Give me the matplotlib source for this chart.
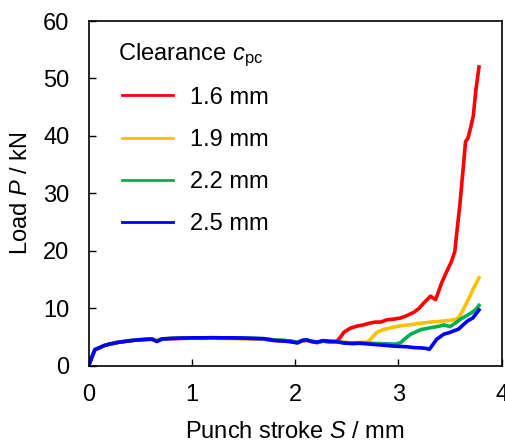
import matplotlib
matplotlib.use("Agg")
import matplotlib.pyplot as plt

plt.rcParams['font.family'] = ['Liberation Sans', 'DejaVu Sans']
plt.rcParams['mathtext.fontset'] = 'custom'
plt.rcParams['mathtext.rm'] = 'Liberation Sans'
plt.rcParams['mathtext.it'] = 'Liberation Sans:italic'
plt.rcParams['mathtext.bf'] = 'Liberation Sans:bold'

labels = ["1.6 mm", "1.9 mm", "2.2 mm", "2.5 mm"]
colors = ["#FF0000", "#FFC000", "#00B050", "#0000FF"]

s_16 = [0, 0.03, 0.06, 0.1, 0.15, 0.2, 0.28, 0.36, 0.45, 0.53, 0.61, 0.66, 0.71, 0.8, 0.9, 1.0,
        1.1, 1.2, 1.3, 1.4, 1.5, 1.6, 1.7, 1.79, 1.87, 1.95, 2.02, 2.07, 2.11, 2.16, 2.21, 2.27,
        2.33, 2.4, 2.44, 2.47, 2.53, 2.6, 2.66, 2.72, 2.78, 2.83, 2.89, 2.95, 3.02, 3.08, 3.15,
        3.2, 3.25, 3.31, 3.36, 3.42, 3.47, 3.51, 3.545, 3.57, 3.595, 3.63, 3.65, 3.673, 3.70,
        3.725, 3.75, 3.78]
p_16 = [0, 1.5, 2.8, 3.1, 3.5, 3.75, 4.05, 4.25, 4.45, 4.55, 4.6, 4.4, 4.6, 4.7, 4.75, 4.8,
        4.8, 4.85, 4.8, 4.8, 4.75, 4.7, 4.6, 4.4, 4.35, 4.2, 4.0, 4.3, 4.4, 4.2, 4.0, 4.3,
        4.1, 4.2, 5.0, 5.8, 6.5, 6.9, 7.1, 7.4, 7.6, 7.6, 8.0, 8.1, 8.3, 8.7, 9.3,
        10.0, 11.0, 12.1, 11.5, 14.5, 16.5, 18.0, 19.8, 24.0, 28.0, 35.0, 39.0, 39.6, 41.5,
        43.5, 48.0, 52.0]

s_19 = [0, 0.03, 0.06, 0.1, 0.15, 0.2, 0.28, 0.36, 0.45, 0.53, 0.61, 0.66, 0.71, 0.8, 0.9, 1.0,
        1.1, 1.2, 1.3, 1.4, 1.5, 1.6, 1.7, 1.79, 1.87, 1.95, 2.02, 2.07, 2.11, 2.16, 2.21, 2.27,
        2.33, 2.4, 2.47, 2.55, 2.62, 2.70, 2.75, 2.79, 2.84, 2.89, 2.95, 3.02, 3.1, 3.2, 3.31,
        3.4, 3.47, 3.54, 3.58, 3.62, 3.67, 3.72, 3.78]
p_19 = [0, 1.5, 2.8, 3.1, 3.5, 3.8, 4.1, 4.3, 4.5, 4.6, 4.7, 4.5, 4.7, 4.75, 4.8, 4.8,
        4.75, 4.8, 4.75, 4.7, 4.7, 4.7, 4.65, 4.5, 4.4, 4.3, 4.1, 4.35, 4.45, 4.25, 4.1, 4.3,
        4.2, 4.2, 4.1, 4.0, 4.05, 4.1, 5.0, 5.8, 6.2, 6.45, 6.7, 6.95, 7.1, 7.35, 7.6,
        7.7, 7.85, 8.0, 8.3, 9.5, 11.3, 13.2, 15.3]

s_22 = [0, 0.03, 0.06, 0.1, 0.15, 0.2, 0.28, 0.36, 0.45, 0.53, 0.61, 0.66, 0.71, 0.8, 0.9, 1.0,
        1.1, 1.2, 1.3, 1.4, 1.5, 1.6, 1.7, 1.79, 1.87, 1.95, 2.02, 2.07, 2.11, 2.16, 2.21, 2.27,
        2.33, 2.4, 2.47, 2.55, 2.62, 2.7, 2.8, 2.9, 2.97, 3.02, 3.07, 3.12, 3.17, 3.22, 3.28,
        3.34, 3.40, 3.44, 3.50, 3.55, 3.60, 3.66, 3.715, 3.75, 3.78]
p_22 = [0, 1.5, 2.8, 3.1, 3.5, 3.75, 4.05, 4.25, 4.45, 4.55, 4.65, 4.3, 4.65, 4.75, 4.8, 4.85,
        4.85, 4.85, 4.85, 4.8, 4.8, 4.75, 4.7, 4.5, 4.45, 4.3, 4.1, 4.4, 4.45, 4.3, 4.1, 4.3,
        4.2, 4.15, 4.0, 3.9, 3.95, 3.9, 3.85, 3.8, 3.75, 4.0, 4.8, 5.5, 5.9, 6.3, 6.5,
        6.7, 6.9, 7.1, 6.8, 7.4, 8.1, 8.7, 9.3, 9.8, 10.5]

s_25 = [0, 0.03, 0.06, 0.1, 0.15, 0.2, 0.28, 0.36, 0.45, 0.53, 0.61, 0.66, 0.71, 0.8, 0.9, 1.0,
        1.1, 1.2, 1.3, 1.4, 1.5, 1.6, 1.7, 1.79, 1.87, 1.95, 2.02, 2.07, 2.11, 2.16, 2.21, 2.27,
        2.33, 2.4, 2.47, 2.55, 2.62, 2.7, 2.76, 2.83, 2.9, 2.96, 3.02, 3.08, 3.15, 3.22, 3.27,
        3.30, 3.33, 3.37, 3.41, 3.44, 3.5, 3.585, 3.62, 3.67, 3.72, 3.75, 3.78]
p_25 = [0, 1.4, 2.8, 3.1, 3.5, 3.75, 4.05, 4.25, 4.45, 4.55, 4.65, 4.2, 4.65, 4.75, 4.8, 4.85,
        4.85, 4.88, 4.85, 4.85, 4.8, 4.75, 4.7, 4.4, 4.3, 4.2, 3.97, 4.4, 4.5, 4.2, 4.07, 4.36,
        4.25, 4.2, 3.95, 3.85, 3.9, 3.8, 3.7, 3.6, 3.5, 3.4, 3.35, 3.3, 3.15, 3.1, 3.0,
        2.85, 3.6, 4.6, 5.1, 5.5, 5.8, 6.4, 7.0, 7.8, 8.3, 9.0, 9.7]

series_s = [s_16, s_19, s_22, s_25]
series_p = [p_16, p_19, p_22, p_25]

FS = 17

fig = plt.figure(figsize=(5.06, 4.43), dpi=100)
ax = fig.add_axes([0.1753, 0.1745, 0.8162, 0.778])

for s, p, c, lab in zip(series_s, series_p, colors, labels):
    ax.plot(s, p, color=c, lw=2.6, label=lab, solid_joinstyle='round')

ax.set_xlim(0, 4)
ax.set_ylim(0, 60)
ax.set_xticks([0, 1, 2, 3, 4])
ax.set_yticks([0, 10, 20, 30, 40, 50, 60])
ax.tick_params(direction='in', length=5, width=1, labelsize=FS, colors='black')
ax.tick_params(axis='x', pad=13)
ax.tick_params(axis='y', pad=14)
for sp in ax.spines.values():
    sp.set_linewidth(1.2)
    sp.set_color('black')

ax.set_xlabel("Punch stroke $\\it{S}$ / mm", fontsize=FS)
ax.set_ylabel("Load $\\it{P}$ / kN", fontsize=FS)
ax.xaxis.set_label_coords(0.499, -0.160)
ax.yaxis.set_label_coords(-0.138, 0.5)

ax.text(0.070, 0.900, "Clearance $\\it{c}_{\\mathrm{pc}}$", transform=ax.transAxes,
        fontsize=FS, ha='left', va='center')

leg = ax.legend(frameon=False, loc='upper left', bbox_to_anchor=(0.080, 0.810),
                fontsize=FS, handlelength=2.16, handletextpad=0.72,
                labelspacing=0.86, borderaxespad=0, borderpad=0)
for h in leg.get_lines():
    h.set_linewidth(2.0)

fig.savefig("out.png", dpi=100)
